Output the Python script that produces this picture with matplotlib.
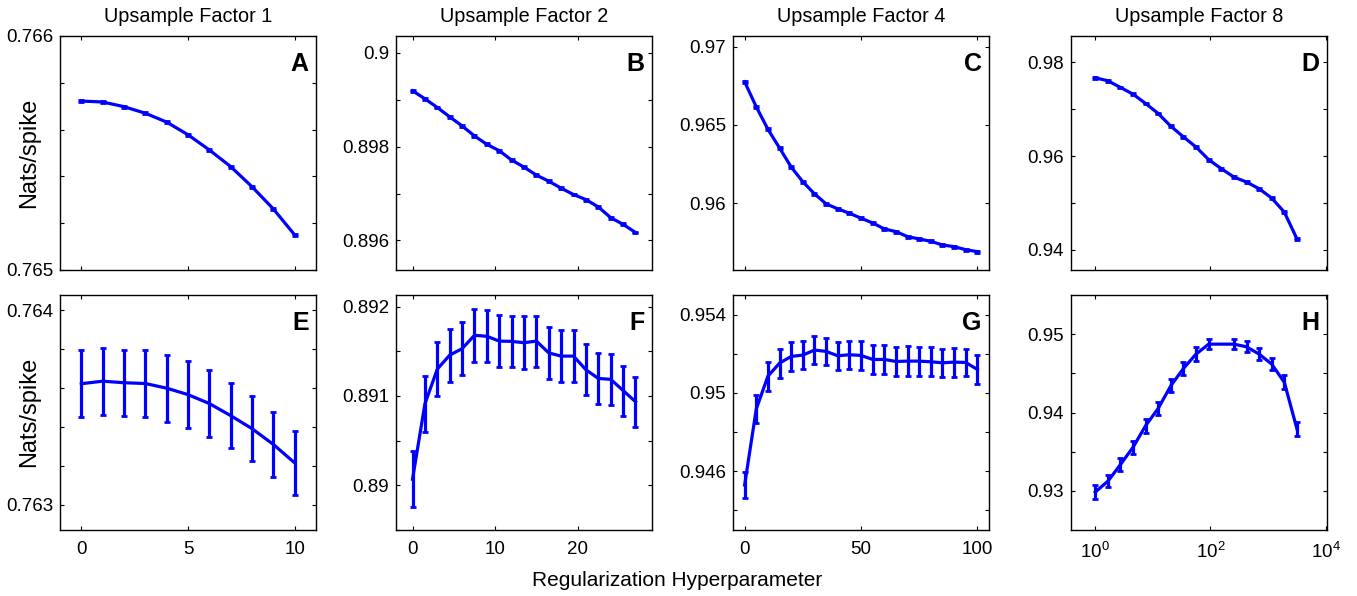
import numpy as np
import matplotlib
matplotlib.use("Agg")
from matplotlib import pyplot as plt

plt.rcParams["font.family"] = ["Liberation Sans", "DejaVu Sans"]
plt.rcParams["mathtext.fontset"] = "custom"
plt.rcParams["mathtext.rm"] = "Liberation Sans"

# ---- data ----
titles = ["Upsample Factor 1", "Upsample Factor 2", "Upsample Factor 4", "Upsample Factor 8"]
letters_top = ["A", "B", "C", "D"]
letters_bot = ["E", "F", "G", "H"]

x_f1 = [0, 1, 2, 3, 4, 5, 6, 7, 8, 9, 10]
x_f2 = [0, 1.5, 3, 4.5, 6, 7.5, 9, 10.5, 12, 13.5, 15, 16.5, 18, 19.5, 21, 22.5, 24, 25.5, 27]
x_f4 = [0, 5, 10, 15, 20, 25, 30, 35, 40, 45, 50, 55, 60, 65, 70, 75, 80, 85, 90, 95, 100]
x_f8 = [1, 1.66, 2.74, 4.53, 7.5, 12.4, 20.5, 34, 56, 93, 154, 255, 422, 698, 1155, 1911, 3162]
x_f8_test = [1, 1.66, 2.74, 4.53, 7.5, 12.4, 20.5, 34, 56, 93, 255, 422, 698, 1155, 1911, 3162]

# top row: training
train_f1 = [0.765722, 0.765718, 0.765698, 0.76567, 0.765632, 0.765578,
            0.765513, 0.765442, 0.765356, 0.765261, 0.76515]
train_f2 = [0.899193, 0.899021, 0.898836, 0.898636, 0.898443, 0.898229, 0.89805,
            0.897914, 0.897714, 0.897564, 0.897393, 0.897264, 0.897114, 0.896979,
            0.896871, 0.896714, 0.896486, 0.896343, 0.896171]
train_f4 = [0.967756, 0.966154, 0.964722, 0.963526, 0.962308, 0.961368, 0.960598,
            0.959957, 0.959637, 0.959359, 0.959038, 0.958739, 0.958355, 0.958184,
            0.957863, 0.957714, 0.957564, 0.957329, 0.957222, 0.95703, 0.956902]
train_f8 = [0.97672, 0.976078, 0.974652, 0.973226, 0.97123, 0.969091, 0.966381,
            0.9641, 0.96196, 0.959251, 0.957326, 0.955544, 0.954474, 0.953048,
            0.951052, 0.948057, 0.942353]
train_err = [0.000004, 0.00002, 0.00006, 0.0002]

# bottom row: test, with error bars
test_f1 = [0.763623, 0.763636, 0.763628, 0.763624, 0.7636, 0.763567,
           0.763521, 0.763459, 0.763392, 0.763311, 0.763216]
test_f1_err = [0.000172, 0.000173, 0.00017, 0.00017, 0.000172, 0.000171,
               0.00017, 0.000167, 0.000166, 0.000166, 0.000165]
test_f2 = [0.890068, 0.890911, 0.8913, 0.891457, 0.891529, 0.891679, 0.891668,
           0.891614, 0.891611, 0.891596, 0.891614, 0.891482, 0.891446, 0.891446,
           0.891293, 0.891196, 0.891186, 0.891061, 0.890936]
test_f2_err = [0.000316, 0.000309, 0.000304, 0.000298, 0.000296, 0.000295, 0.000293,
               0.000291, 0.000289, 0.000295, 0.000286, 0.000291, 0.000291, 0.000289,
               0.000286, 0.000286, 0.000284, 0.00028, 0.000279]
test_f4 = [0.945299, 0.949179, 0.950855, 0.951521, 0.951863, 0.951932, 0.952188,
           0.95212, 0.951897, 0.951949, 0.951915, 0.951709, 0.951709, 0.951607,
           0.951624, 0.951624, 0.95159, 0.951538, 0.951573, 0.951556, 0.951197]
test_f4_err = [0.000667, 0.000726, 0.000735, 0.000735, 0.000726, 0.000718, 0.000701,
               0.000692, 0.000718, 0.000726, 0.000726, 0.000735, 0.000726, 0.000744,
               0.000752, 0.000744, 0.000735, 0.000726, 0.000735, 0.000709, 0.000726]
test_f8 = [0.929831, 0.931233, 0.933356, 0.935564, 0.938323, 0.940531, 0.943419,
           0.945627, 0.947452, 0.948726, 0.948726, 0.948387, 0.947452, 0.946179,
           0.943843, 0.937899]
test_f8_err = [0.00085, 0.00074, 0.00079, 0.00081, 0.00089, 0.00085, 0.00085,
               0.00085, 0.00085, 0.00064, 0.0006, 0.00068, 0.00074, 0.00079,
               0.00089, 0.00089]

xs_top = [x_f1, x_f2, x_f4, x_f8]
xs_bot = [x_f1, x_f2, x_f4, x_f8_test]
ys_top = [train_f1, train_f2, train_f4, train_f8]
ys_bot = [test_f1, test_f2, test_f4, test_f8]
errs_bot = [test_f1_err, test_f2_err, test_f4_err, test_f8_err]

xlims = [(-1, 11), (-2, 29), (-5, 105), (0.38, 1.05e4)]
xticks = [[0, 5, 10], [0, 10, 20], [0, 50, 100], [1, 100, 10000]]

ylims_top = [(0.765, 0.766), (0.89537, 0.90036), (0.95573, 0.97068), (0.93572, 0.98563)]
yticks_top = [[0.765, 0.766], [0.896, 0.898, 0.9], [0.96, 0.965, 0.97], [0.94, 0.96, 0.98]]
ylabels_top = [["0.765", "0.766"], ["0.896", "0.898", "0.9"],
               ["0.96", "0.965", "0.97"], ["0.94", "0.96", "0.98"]]
yminor_top = [[0.7652, 0.7654, 0.7656, 0.7658], [0.897, 0.899], [], [0.95, 0.97]]

ylims_bot = [(0.762871, 0.764079), (0.889625, 0.89213), (0.943, 0.955), (0.925, 0.955)]
yticks_bot = [[0.763, 0.764], [0.89, 0.891, 0.892], [0.946, 0.95, 0.954], [0.93, 0.94, 0.95]]
ylabels_bot = [["0.763", "0.764"], ["0.89", "0.891", "0.892"],
               ["0.946", "0.95", "0.954"], ["0.93", "0.94", "0.95"]]
yminor_bot = [[0.7632, 0.7634, 0.7636, 0.7638], [0.8895, 0.8905, 0.8915],
              [0.944, 0.948, 0.952], [0.935, 0.945]]

blue = "#0000ff"

fig = plt.figure(figsize=(13.57, 5.96), dpi=100)

lefts = [60, 396, 733, 1071]
W, H = 1357, 596


def style_axes(ax, i, ylim, yt, ylab, ymin, letter, show_xlabels):
    ax.set_xlim(*xlims[i])
    if i == 3:
        ax.set_xscale("log")
        ax.minorticks_off()
    ax.set_xticks(xticks[i])
    if i == 3 and show_xlabels:
        ax.set_xticklabels([r"$10^{0}$", r"$10^{2}$", r"$10^{4}$"])
    ax.set_ylim(*ylim)
    ax.set_yticks(yt, labels=ylab)
    ax.set_yticks(ymin, minor=True)
    ax.tick_params(which="both", direction="in", top=True, right=True,
                   length=3, width=0.8, labelsize=13.5, pad=5)
    ax.tick_params(axis="x", which="major", pad=8)
    if not show_xlabels:
        ax.tick_params(axis="x", labelbottom=False)
    for s in ax.spines.values():
        s.set_linewidth(1.0)
    ax.text(0.972, 0.93, letter, transform=ax.transAxes, ha="right", va="top",
            fontsize=18, fontweight="bold")


for i in range(4):
    # top row
    ax = fig.add_axes([lefts[i] / W, (H - 270) / H, 256 / W, 234 / H])
    ax.errorbar(xs_top[i], ys_top[i], yerr=train_err[i], color=blue, lw=2.3,
                elinewidth=2.3, capsize=2, capthick=2)
    style_axes(ax, i, ylims_top[i], yticks_top[i], ylabels_top[i], yminor_top[i],
               letters_top[i], False)
    ax.set_title(titles[i], fontsize=14.3, pad=10)

    # bottom row
    ax = fig.add_axes([lefts[i] / W, (H - 530) / H, 256 / W, 235 / H])
    ax.errorbar(xs_bot[i], ys_bot[i], yerr=errs_bot[i], color=blue, lw=2.3,
                elinewidth=2.3, capsize=2, capthick=2)
    style_axes(ax, i, ylims_bot[i], yticks_bot[i], ylabels_bot[i], yminor_bot[i],
               letters_bot[i], True)

fig.text(29 / W, 1 - 153 / H, "Nats/spike", rotation=90, ha="center", va="center",
         fontsize=17)
fig.text(29 / W, 1 - 412 / H, "Nats/spike", rotation=90, ha="center", va="center",
         fontsize=17)
fig.text(677 / W, 1 - 580 / H, "Regularization Hyperparameter", ha="center",
         va="center", fontsize=15)

fig.savefig("out.png", dpi=100)
